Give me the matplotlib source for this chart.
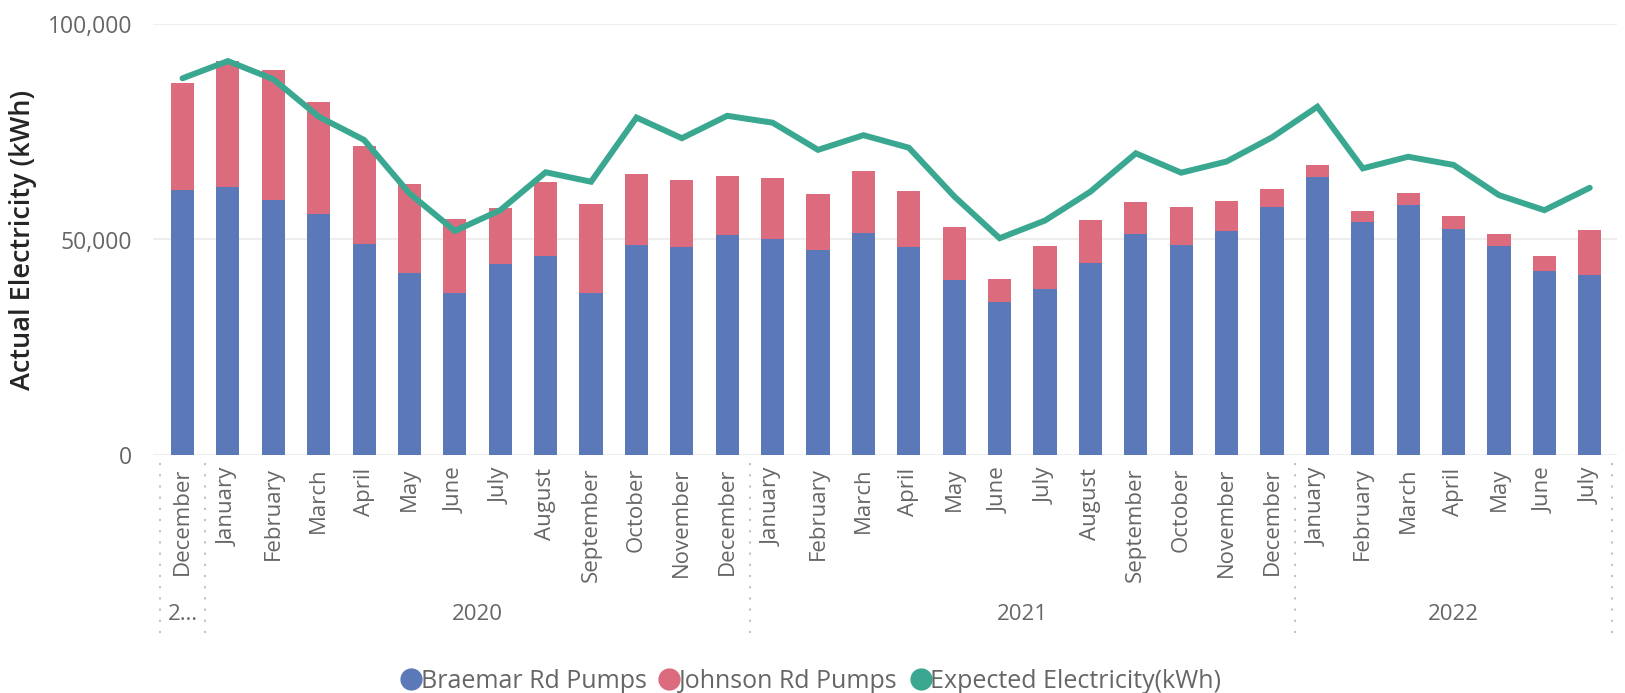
import matplotlib.pyplot as plt
from matplotlib.lines import Line2D
from matplotlib.ticker import FuncFormatter

plt.rcParams['font.family'] = ['Open Sans', 'DejaVu Sans']

months = ['December',
          'January', 'February', 'March', 'April', 'May', 'June', 'July',
          'August', 'September', 'October', 'November', 'December',
          'January', 'February', 'March', 'April', 'May', 'June', 'July',
          'August', 'September', 'October', 'November', 'December',
          'January', 'February', 'March', 'April', 'May', 'June', 'July']
years = ['2\u2026', '2020', '2021', '2022']
year_spans = [(0, 0), (1, 12), (13, 24), (25, 31)]

braemar = [61500, 62200, 59200, 55900, 49000, 42200, 37600, 44300, 46200, 37600,
           48700, 48300, 51000, 50100, 47600, 51500, 48300, 40600, 35500, 38500,
           44500, 51300, 48700, 52000, 57500, 64500, 54100, 58000, 52400, 48500,
           42700, 41800]
johnson = [24800, 29200, 30100, 26000, 22700, 20700, 17200, 13000, 17100, 20600,
           16500, 15500, 13700, 14200, 13000, 14400, 13000, 12300, 5300, 10000,
           10000, 7400, 8800, 6900, 4200, 2800, 2500, 2800, 3100, 2800,
           3500, 10400]
expected = [87400, 91400, 87200, 78500, 73100, 60700, 52000, 56800, 65600, 63400,
            78300, 73500, 78700, 77100, 70800, 74200, 71300, 60000, 50300, 54400,
            61100, 70000, 65500, 68100, 73700, 80800, 66500, 69200, 67300, 60300,
            56800, 62000]

blue = '#5B79B8'
pink = '#DC6B7E'
green = '#3AA891'
grey = '#666666'

W, H = 1625, 693
fig = plt.figure(figsize=(W / 100, H / 100), dpi=100)
ax = fig.add_axes([153 / W, 1 - 455 / H, (1617 - 153) / W, 431 / H])

x = list(range(len(months)))
ax.bar(x, braemar, width=0.51, color=blue, zorder=2)
ax.bar(x, johnson, width=0.51, bottom=braemar, color=pink, zorder=2)
ax.plot(x, expected, color=green, lw=4.3, solid_joinstyle='miter',
        solid_capstyle='round', zorder=3)

ax.set_xlim(-0.65, 31.6)
ax.set_ylim(0, 100000)
ax.set_yticks([0, 50000, 100000])
ax.yaxis.set_major_formatter(FuncFormatter(lambda v, p: f'{int(v):,}'))
ax.grid(axis='y', color='#EEEEEE', lw=1.5, zorder=0)
for s in ax.spines.values():
    s.set_visible(False)
ax.tick_params(axis='y', length=0, pad=15, labelsize=16.5, labelcolor=grey)

ax.set_xticks(x)
ax.set_xticklabels(months, rotation=90, fontsize=16, color=grey, va='top')
ax.tick_params(axis='x', length=0, pad=9)

ax.set_ylabel('Actual Electricity (kWh)', fontsize=19.5, color='#252423',
              fontweight='semibold', va='center')
ax.yaxis.set_label_coords(-0.0888, 0.5)

# year groups and dotted separators below the axis
trans = ax.get_xaxis_transform()
for sep in [-0.5, 0.5, 12.5, 24.5, 31.5]:
    ax.plot([sep, sep], [-0.0186, -0.413], transform=trans, clip_on=False,
            color='#BBBBBB', lw=1.3, dashes=(1.2, 5))
for label, (a, b) in zip(years, year_spans):
    ax.text((a + b) / 2, -0.371, label, transform=trans, ha='center', va='center',
            fontsize=16, color=grey)

handles = [Line2D([], [], ls='', marker='o', ms=15, color=c) for c in (blue, pink, green)]
fig.legend(handles, ['Braemar Rd Pumps', 'Johnson Rd Pumps', 'Expected Electricity(kWh)'],
           loc='center', bbox_to_anchor=(0.5, 1 - 681 / H), ncol=3, frameon=False,
           handlelength=0.6, handletextpad=0.1, columnspacing=0.6,
           prop={'size': 18}, labelcolor=grey)

fig.savefig('out.png', dpi=100)
